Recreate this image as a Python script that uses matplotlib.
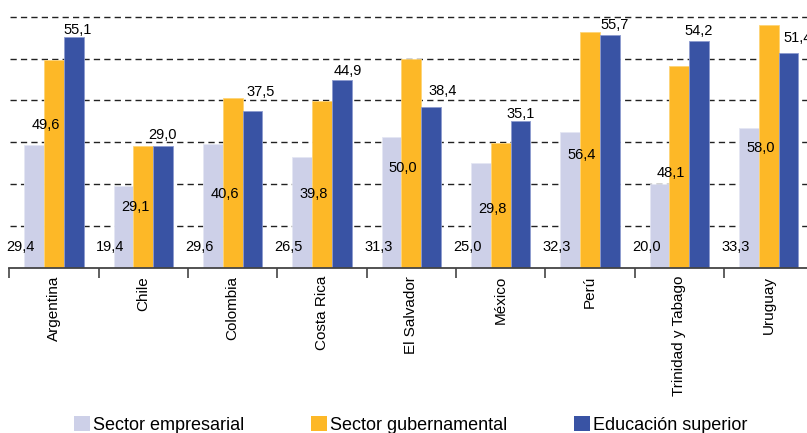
import matplotlib
matplotlib.use("Agg")
import matplotlib.pyplot as plt
import numpy as np
from matplotlib.patches import Patch

plt.rcParams['font.family'] = ['Liberation Sans', 'DejaVu Sans']

paises = ['Argentina', 'Chile', 'Colombia', 'Costa Rica', 'El Salvador',
          'México', 'Perú', 'Trinidad y Tabago', 'Uruguay']
empresarial = [29.4, 19.4, 29.6, 26.5, 31.3, 25.0, 32.3, 20.0, 33.3]
gubernamental = [49.6, 29.1, 40.6, 39.8, 50.0, 29.8, 56.4, 48.1, 58.0]
educacion = [55.1, 29.0, 37.5, 44.9, 38.4, 35.1, 55.7, 54.2, 51.4]

# where the value labels of the middle and right bars sit
gub_label_y = [34.0, 14.4, 17.7, 17.5, 23.9, 14.1, 26.8, 22.7, 28.7]
edu_label_dx = [0.27, 0.21, 0.31, 0.29, 0.35, 0.22, 0.28, 0.22, 0.33]
edu_label_dy = [1.8, 2.8, 4.6, 2.0, 3.9, 1.7, 2.2, 2.3, 3.6]

c_emp = '#cdd0e8'
c_gub = '#fdb827'
c_edu = '#3953a4'

fig = plt.figure(figsize=(8.07, 4.33), dpi=100)
ax = fig.add_axes([9.3 / 807, 1 - 267.5 / 433, 804 / 807, 267.5 / 433])

x = np.arange(len(paises))
w = 0.222
ax.bar(x - w, empresarial, w, color=c_emp, edgecolor='#e4e6f3', linewidth=0.6, zorder=2)
ax.bar(x, gubernamental, w, color=c_gub, edgecolor='#fed477', linewidth=0.6, zorder=2)
ax.bar(x + w, educacion, w, color=c_edu, edgecolor='#8d9bcf', linewidth=0.6, zorder=2)

fs = 10.5
for i in range(len(paises)):
    ax.text(x[i] - 0.37, 4.8, f'{empresarial[i]:.1f}'.replace('.', ','),
            ha='center', va='center', fontsize=fs, zorder=3)
    ax.text(x[i] - 0.09, gub_label_y[i], f'{gubernamental[i]:.1f}'.replace('.', ','),
            ha='center', va='center', fontsize=fs, zorder=3)
    ax.text(x[i] + edu_label_dx[i], educacion[i] + edu_label_dy[i],
            f'{educacion[i]:.1f}'.replace('.', ','),
            ha='center', va='center', fontsize=fs, zorder=3, clip_on=False)

ax.set_xlim(-0.5, len(paises) - 0.5)
ax.set_ylim(0, 64)

# dashed guides every 10 units
for yv in range(10, 70, 10):
    ax.plot([-0.49, len(paises)], [yv, yv], color='#222222', linewidth=1.0,
            linestyle=(0, (4.5, 3)), zorder=1, clip_on=False)

ax.set_yticks([])
for s in ['left', 'right', 'top']:
    ax.spines[s].set_visible(False)
ax.spines['bottom'].set_color('#444444')
ax.spines['bottom'].set_linewidth(1.3)

ax.set_xticks(x)
ax.set_xticklabels(paises, rotation=90, fontsize=11)
ax.tick_params(axis='x', length=0, pad=6)
ax.set_xticks(np.arange(-0.5, len(paises), 1), minor=True)
ax.tick_params(axis='x', which='minor', length=7, width=1.2, color='#444444', direction='out')

handles = [Patch(facecolor=c_emp, label='Sector empresarial'),
           Patch(facecolor=c_gub, label='Sector gubernamental'),
           Patch(facecolor=c_edu, label='Educación superior')]
fig.legend(handles=handles, loc='center left', bbox_to_anchor=(74 / 807, 1 - 425 / 433),
           ncol=3, frameon=False, fontsize=13, handlelength=0.9, handleheight=0.9,
           handletextpad=0.15, columnspacing=3.7, borderpad=0, borderaxespad=0)

fig.savefig('out.png', dpi=100)
